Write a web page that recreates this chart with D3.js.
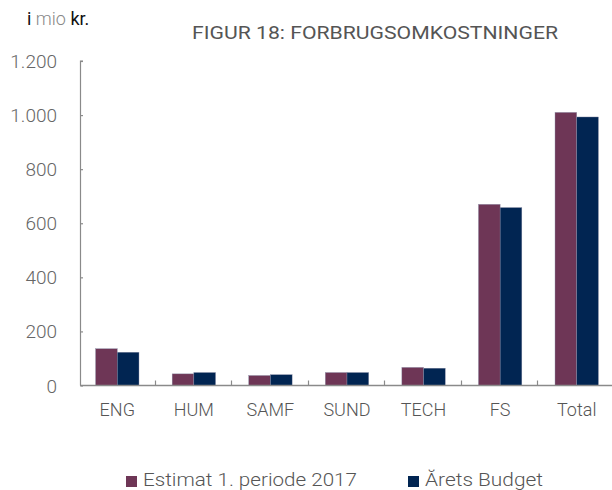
<!DOCTYPE html>
<html><head><meta charset="utf-8">
<script src="https://cdn.jsdelivr.net/npm/d3@7/dist/d3.min.js"></script>
<style>body{margin:0;background:#fff}svg{display:block}text{font-family:"Roboto","Liberation Sans",sans-serif}</style>
</head><body><svg id="c" width="612" height="490"></svg>
<script>
const categories = ["ENG","HUM","SAMF","SUND","TECH","FS","Total"];
const seriesNames = ["Estimat 1. periode 2017","Ărets Budget"];
const estimat = [136,43,37,48,67,670,1010];
const budget = [123,48,40,48,64,658,993];
const yTicks = [0,200,400,600,800,1000,1200];
const yTickLabels = ["0","200","400","600","800","1.000","1.200"];
const colors = ["#6e3656","#012552"];

const svg = d3.select("#c");
const x = d3.scaleBand().domain(categories).range([79,615]).paddingInner(0).paddingOuter(0);
const y = d3.scaleLinear().domain([0,1200]).range([385.5,61]);
const bw = 21.7;

// bars
const data = [estimat, budget];
data.forEach((vals, s) => {
  svg.append("g").selectAll("rect").data(categories).join("rect")
    .attr("x", c => x(c) + x.bandwidth()/2 - bw + s*bw)
    .attr("y", (c,i) => y(vals[i]))
    .attr("width", bw)
    .attr("height", (c,i) => y(0) - y(vals[i]))
    .attr("fill", colors[s])
    .attr("stroke", "#8d8fa8").attr("stroke-width", 0.4);
});

// y axis
const ya = svg.append("g").attr("transform","translate(80.5,0)")
  .call(d3.axisRight(y).tickValues(yTicks).tickSize(2.5).tickFormat(""));
ya.select(".domain").attr("stroke","#8a8a8a").attr("stroke-width",1.2).attr("d","M2.5,61H0V385.5");
ya.selectAll(".tick line").attr("stroke","#8a8a8a").attr("stroke-width",1.2);
svg.append("g").selectAll("text").data(yTicks).join("text")
  .attr("x",57).attr("y",d=>y(d)+7).attr("text-anchor","end")
  .attr("font-size",19).attr("font-weight",300).attr("fill","#666")
  .text((d,i)=>yTickLabels[i]);

// x axis
const xa = svg.append("g").attr("transform","translate(0,385.5)");
xa.append("line").attr("x1",80).attr("x2",612).attr("stroke","#8a8a8a").attr("stroke-width",1.5);
xa.selectAll("line.t").data(categories.slice(1)).join("line").attr("class","t")
  .attr("x1",c=>Math.round(x(c))-0.5).attr("x2",c=>Math.round(x(c))-0.5).attr("y1",0).attr("y2",-5)
  .attr("stroke","#8a8a8a").attr("stroke-width",1.2);
svg.append("g").selectAll("text").data(categories).join("text")
  .attr("x",c=>x(c)+x.bandwidth()/2).attr("y",416).attr("text-anchor","middle")
  .attr("font-size",18).attr("font-weight",300).attr("fill","#555").text(c=>c);

// title
svg.append("text").attr("x",192).attr("y",39).attr("font-size",18).attr("fill","#555")
  .attr("textLength",366).attr("lengthAdjust","spacingAndGlyphs")
  .text("FIGUR 18: FORBRUGSOMKOSTNINGER");
const unit = svg.append("text").attr("x",27).attr("y",25).attr("font-size",18);
unit.append("tspan").attr("fill","#111").text("i ");
unit.append("tspan").attr("fill","#888").attr("font-weight",300).text("mio");
unit.append("tspan").attr("fill","#111").text(" kr.");

// legend
const lx = [126, 408];
const lw = [214, 118];
seriesNames.forEach((n,i)=>{
  svg.append("rect").attr("x",lx[i]).attr("y",476).attr("width",11).attr("height",11).attr("fill",colors[i]);
  svg.append("text").attr("x",lx[i]+17).attr("y",485.5).attr("font-size",18.5).attr("font-weight",300).attr("fill","#555")
    .attr("textLength",lw[i]).attr("lengthAdjust","spacingAndGlyphs").text(n);
});
</script></body></html>
